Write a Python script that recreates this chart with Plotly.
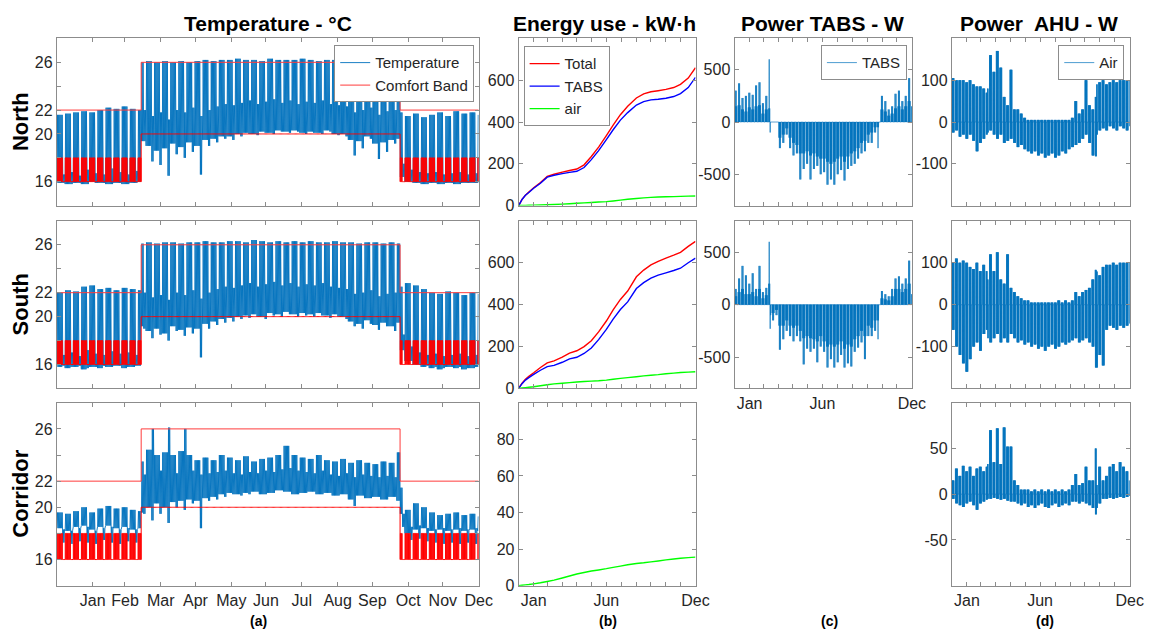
import bisect
import plotly.graph_objects as go

# ---------------------------------------------------------------- data ----
MONTHS = ['Jan', 'Feb', 'Mar', 'Apr', 'May', 'Jun', 'Jul', 'Aug', 'Sep', 'Oct', 'Nov', 'Dec']
SHORT_MONTHS = ['Jan', '', '', '', '', 'Jun', '', '', '', '', '', 'Dec']
MONTH_END_DAY = [31, 59, 90, 120, 151, 181, 212, 243, 273, 304, 334, 365]
N_DAYS = 365
COOL_START = 73      # day the cooling comfort band starts
HEAT_START = 297     # day the heating comfort band comes back

# segments: weeks, split at the two season changes
SEG_START = (list(range(0, COOL_START, 7)) + [COOL_START] + list(range(77, HEAT_START, 7))
             + [HEAT_START] + list(range(301, N_DAYS, 7)))

# comfort band (deg C)
BAND_HEAT_UPPER = 22
BAND_COOL_UPPER = 26
BAND_COOL_LOWER = 20
BAND_HEAT_LOWER_DAY = 18
BAND_HEAT_LOWER_NIGHT = 16

# ---- temperatures, one value per segment (heating / cooling / heating) ----
N_HI = ([21.6, 21.7, 21.8, 21.9, 21.8, 22.0, 22.2, 22.1, 22.3, 22.1, 22.0]
        + [26.0, 26.1, 26.0, 26.1, 26.0, 26.1, 26.0, 26.1, 26.2, 26.1, 26.2,
           26.2, 26.3, 26.2, 26.2, 26.1, 26.3, 26.2, 26.2, 26.2, 26.3, 26.2,
           26.1, 26.2, 26.2, 26.1, 26.2, 26.1, 26.0, 26.1, 26.0, 26.1, 26.0]
        + [21.8, 21.5, 21.7, 21.4, 21.6, 21.8, 21.5, 21.9, 21.7, 21.8, 21.6])
N_LO = ([15.9, 15.8, 15.9, 15.8, 16.0, 15.9, 15.8, 15.9, 15.8, 15.9, 16.0]
        + [19.4, 19.0, 18.6, 18.8, 19.2, 18.9, 19.3, 19.0, 19.5, 19.6, 19.8,
           19.8, 20.0, 20.1, 20.0, 20.2, 20.1, 20.3, 20.2, 20.3, 20.1, 20.2,
           20.1, 20.3, 20.0, 20.0, 19.5, 19.4, 19.8, 19.2, 19.3, 19.5, 19.6]
        + [16.4, 16.0, 15.9, 15.8, 15.9, 15.8, 15.9, 15.8, 15.9, 15.9, 15.9])
N_WE_HI = ([16.6, 16.8, 16.5, 17.0, 16.7, 16.6, 17.1, 16.8, 16.6, 16.9, 17.0]
           + [22.0, 21.5, 21.8, 21.2, 22.0, 21.8, 22.2, 21.5, 22.0, 22.3, 22.5,
              22.4, 22.6, 22.8, 22.5, 22.7, 22.9, 22.6, 22.8, 22.5, 22.7, 22.6,
              22.8, 22.5, 22.4, 22.3, 21.8, 22.0, 22.2, 21.6, 21.9, 22.0, 22.1]
           + [17.5, 17.0, 16.8, 16.7, 16.8, 16.6, 16.7, 16.8, 16.6, 16.7, 16.8])
N_WE_LO = ([15.9, 15.8, 15.9, 15.8, 15.9, 15.9, 15.8, 15.9, 15.8, 15.9, 16.0]
           + [19.4, 17.7, 17.4, 16.5, 18.3, 18.0, 18.5, 16.6, 19.0, 19.3, 19.6,
              19.5, 19.8, 20.0, 19.9, 20.1, 20.0, 20.2, 20.1, 20.2, 20.0, 20.1,
              20.0, 20.2, 19.9, 19.8, 18.2, 18.8, 19.6, 17.9, 18.5, 19.2, 19.5]
           + [16.4, 16.0, 15.9, 15.8, 15.9, 15.8, 15.9, 15.8, 15.9, 15.9, 15.9])

S_HI = ([22.0, 22.2, 22.1, 22.5, 22.6, 22.3, 22.4, 22.2, 22.4, 22.3, 22.2]
        + [26.1, 26.2, 26.1, 26.2, 26.2, 26.1, 26.2, 26.2, 26.3, 26.2, 26.2,
           26.3, 26.3, 26.2, 26.4, 26.3, 26.2, 26.3, 26.2, 26.3, 26.2, 26.3,
           26.2, 26.2, 26.3, 26.2, 26.2, 26.1, 26.2, 26.2, 26.1, 26.2, 26.1]
        + [22.5, 22.8, 22.6, 22.3, 22.0, 21.9, 22.1, 22.0, 21.8, 22.0, 21.9])
S_LO = ([15.8, 15.7, 15.8, 15.6, 15.8, 15.7, 15.8, 15.9, 15.7, 15.8, 15.9]
        + [19.2, 18.8, 19.0, 18.6, 19.2, 18.9, 19.1, 19.0, 19.4, 19.6, 19.8,
           19.9, 20.0, 20.1, 20.2, 20.0, 20.3, 20.2, 20.4, 20.2, 20.3, 20.2,
           20.3, 20.1, 20.2, 20.0, 19.6, 19.4, 19.7, 19.3, 19.5, 19.2, 19.5]
        + [17.2, 16.3, 16.0, 15.8, 15.7, 15.6, 15.8, 15.7, 15.6, 15.7, 15.8])
S_WE_HI = ([16.8, 17.0, 16.7, 17.2, 16.9, 16.8, 17.1, 16.9, 17.0, 16.8, 17.0]
           + [22.0, 21.6, 21.8, 21.4, 22.0, 21.8, 22.2, 21.5, 22.0, 22.3, 22.5,
              22.4, 22.6, 22.8, 22.5, 22.7, 22.9, 22.6, 22.8, 22.5, 22.7, 22.6,
              22.8, 22.5, 22.4, 22.3, 21.9, 22.0, 22.2, 21.7, 21.9, 22.0, 22.1]
           + [18.5, 17.5, 17.0, 16.8, 16.9, 16.7, 16.8, 16.9, 16.7, 16.8, 16.9])
S_WE_LO = ([15.9, 15.8, 15.9, 15.7, 15.8, 15.9, 15.8, 15.9, 15.8, 15.9, 16.0]
           + [19.0, 18.2, 18.5, 18.0, 18.8, 18.4, 18.6, 16.6, 19.0, 19.3, 19.5,
              19.6, 19.8, 19.9, 20.0, 19.8, 20.1, 20.0, 20.2, 20.0, 20.1, 20.0,
              20.1, 19.9, 20.0, 19.8, 19.2, 19.0, 19.4, 18.9, 19.2, 18.8, 19.3]
           + [17.2, 16.3, 16.0, 15.9, 15.8, 15.7, 15.8, 15.8, 15.7, 15.8, 15.9])

C_HI = ([19.6, 19.5, 19.7, 20.0, 19.6, 19.9, 20.1, 19.9, 20.0, 19.8, 19.7]
        + [23.5, 24.4, 24.0, 24.2, 24.0, 24.3, 24.0, 23.6, 23.8, 23.6, 24.0,
           23.8, 23.6, 23.9, 23.5, 23.7, 23.8, 24.0, 24.7, 24.0, 23.8, 23.7,
           24.0, 23.6, 23.5, 23.7, 23.4, 23.6, 23.4, 23.3, 23.5, 23.4, 24.2]
        + [21.5, 19.8, 20.3, 20.0, 19.6, 19.4, 19.5, 19.6, 19.4, 19.5, 19.3])
C_LO = ([18.4, 18.2, 18.5, 18.6, 18.3, 18.5, 18.6, 18.4, 18.5, 18.3, 18.4]
        + [19.6, 20.0, 20.3, 20.0, 20.4, 20.5, 20.6, 20.5, 20.7, 20.8, 21.0,
           21.1, 21.0, 21.1, 21.2, 21.0, 21.1, 21.3, 21.2, 21.0, 21.1, 21.2,
           21.0, 21.1, 20.9, 21.0, 20.6, 20.9, 20.7, 20.8, 20.6, 20.8, 20.5]
        + [19.5, 18.0, 18.3, 18.4, 18.2, 18.3, 18.2, 18.3, 18.2, 18.3, 18.2])
C_WE_HI = ([18.3, 18.2, 18.4, 18.5, 18.2, 18.4, 18.5, 18.3, 18.4, 18.3, 18.6]
           + [22.5, 26.0, 22.8, 26.1, 22.6, 26.0, 22.8, 22.5, 22.6, 22.7, 22.8,
              22.6, 22.5, 22.7, 22.6, 22.8, 22.7, 22.9, 23.0, 22.8, 22.7, 22.6,
              22.8, 22.5, 22.4, 22.6, 22.3, 22.5, 22.4, 22.3, 22.4, 22.3, 22.6]
           + [19.5, 18.5, 18.6, 18.4, 18.3, 18.4, 18.3, 18.4, 18.3, 18.4, 18.3])
C_WE_LO = ([17.3, 17.2, 17.4, 17.3, 17.2, 17.5, 17.3, 17.2, 17.4, 17.3, 17.6]
           + [19.5, 19.0, 19.5, 18.8, 20.0, 19.8, 20.3, 18.4, 20.5, 20.6, 20.8,
              21.0, 20.9, 21.0, 21.2, 21.0, 21.1, 21.3, 21.2, 21.0, 21.1, 21.2,
              21.0, 21.1, 20.9, 21.0, 20.1, 20.9, 20.7, 20.8, 20.6, 20.8, 20.5]
           + [18.5, 17.5, 17.6, 17.4, 17.3, 17.2, 17.3, 17.2, 17.3, 17.2, 17.4])

# ---- cumulative energy use (kW.h) ----
ENERGY_DAYS = [0, 7, 14, 21, 31, 45, 59, 73, 90, 105, 120, 135, 150, 165, 181, 195,
               210, 225, 243, 258, 273, 288, 304, 320, 334, 350, 365]
N_TOTAL = [0, 30, 50, 65, 85, 110, 140, 150, 160, 168, 175, 195, 235, 280, 335, 385,
           435, 475, 515, 535, 545, 550, 556, 565, 580, 610, 660]
N_TABS = [0, 29, 49, 63, 83, 107, 136, 145, 153, 159, 164, 182, 220, 263, 316, 363,
          409, 445, 481, 498, 506, 509, 514, 522, 536, 565, 614]
N_AIR = [0, 0.5, 1, 1.5, 2, 3, 4, 5, 7, 9, 11, 13, 15, 17, 19, 22,
         26, 30, 34, 37, 39, 41, 42, 43, 44, 45, 46]
S_TOTAL = [0, 25, 44, 58, 75, 100, 122, 132, 150, 169, 180, 200, 228, 270, 322, 375,
           425, 465, 533, 565, 590, 607, 622, 636, 650, 678, 702]
S_TABS = [0, 23, 40, 52, 67, 87, 104, 110, 125, 141, 149, 167, 193, 233, 282, 331,
          377, 413, 477, 505, 527, 541, 552, 563, 574, 600, 622]
S_AIR = [0, 2, 4, 6, 8, 13, 18, 22, 25, 28, 31, 33, 35, 37, 40, 44,
         48, 52, 56, 60, 63, 66, 70, 73, 76, 78, 80]
C_AIR = [0, 0.2, 0.4, 0.6, 1.0, 1.6, 2.3, 3.0, 4.2, 5.3, 6.4, 7.2, 8.0, 8.6, 9.3, 10.0,
         10.7, 11.4, 12.1, 12.5, 13.0, 13.5, 14.1, 14.6, 15.0, 15.3, 15.6]

# ---- TABS power (W), per segment: peak day and typical day ----
TABS_N_PK = [300, 370, 230, 250, 280, 260, 350, 380, 180, 250, 600,
             -100, 0, 0, -250, -200, -120, -250, -320, -300, -550, -450,
             -400, -550, -450, -420, -500, -480, -600, -550, -600, -500, -460,
             -560, -450, -420, -400, -350, -300, -280, -200, -200, -100, -250,
             0, 250, 200, 120, 150, 270, 300, 200, 250, 420, 300]
TABS_N_LV = [150, 160, 120, 100, 140, 120, 150, 160, 80, 120, 130,
             0, 0, 0, -150, -120, -60, -150, -200, -220, -300, -300,
             -280, -320, -300, -330, -350, -350, -380, -400, -380, -350, -330,
             -380, -330, -300, -280, -250, -200, -180, -120, -100, -50, -50,
             0, 120, 100, 60, 80, 130, 150, 120, 150, 200, 150]
TABS_S_PK = [150, 250, 370, 280, 200, 300, 150, 370, 120, 160, 600,
             -230, -150, -100, -430, -330, -250, -300, -350, -300, -350, -570,
             -420, -450, -420, -550, -400, -450, -600, -520, -600, -550, -480,
             -600, -560, -590, -450, -410, -360, -520, -300, -300, -250, -330,
             0, 130, 100, 80, 150, 250, 270, 200, 250, 420, 200]
TABS_S_LV = [80, 120, 150, 100, 100, 120, 80, 150, 60, 90, 200,
             -100, -80, -50, -200, -200, -150, -200, -220, -200, -250, -320,
             -300, -320, -330, -350, -300, -350, -400, -380, -400, -380, -350,
             -420, -380, -400, -330, -300, -250, -300, -200, -220, -150, -150,
             0, 60, 50, 40, 80, 150, 150, 120, 150, 200, 100]

# ---- AHU power (W), per segment: positive and negative daily extremes ----
AHU_N_POS = [105, 100, 100, 100, 95, 100, 90, 85, 85, 80, 70,
             80, 160, 120, 170, 130, 60, 40, 125, 30, 30, 20,
             10, 5, 5, 5, 5, 5, 5, 5, 5, 5, 5,
             5, 5, 5, 10, 50, 20, 30, 100, 40, 30, 60,
             90, 95, 100, 90, 95, 100, 95, 100, 100, 100, 100]
AHU_N_NEG = [-25, -20, -35, -30, -40, -30, -45, -70, -50, -40, -30,
             -25, -20, -30, -40, -30, -50, -45, -40, -50, -60, -55,
             -65, -70, -75, -70, -80, -75, -85, -80, -75, -85, -80,
             -70, -75, -65, -60, -55, -50, -40, -30, -50, -80, -82,
             -30, -20, -15, -20, -10, -15, -20, -10, -15, -20, -10]
AHU_S_POS = [100, 110, 100, 105, 100, 90, 85, 100, 80, 95, 80,
             60, 120, 80, 125, 60, 50, 120, 40, 30, 20, 15,
             10, 10, 5, 5, 5, 5, 5, 5, 5, 5, 10,
             5, 10, 5, 10, 30, 20, 30, 35, 40, 60, 83,
             79, 70, 90, 95, 95, 100, 95, 100, 100, 100, 100]
AHU_S_NEG = [-60, -100, -120, -140, -160, -130, -100, -90, -110, -70, -60,
             -80, -90, -80, -70, -90, -80, -90, -70, -80, -90, -85,
             -95, -90, -100, -95, -105, -100, -110, -100, -95, -105, -100,
             -90, -95, -90, -85, -80, -90, -85, -80, -90, -100, -150,
             -150, -120, -145, -60, -50, -55, -60, -50, -55, -50, -45]
AHU_C_POS = [15, 28, 20, 31, 25, 30, 20, 28, 30, 25, 30,
             33, 70, 35, 72, 33, 73, 52, 52, 15, 10, 5,
             5, 5, 3, 5, 3, 5, 3, 5, 3, 5, 3,
             5, 3, 5, 10, 22, 10, 12, 30, 15, 15, 50,
             10, 30, 15, 20, 30, 33, 25, 35, 30, 25, 15]
AHU_C_NEG = [-5, -10, -12, -14, -10, -8, -12, -17, -10, -8, -6,
             -5, -5, -4, -5, -6, -5, -7, -8, -8, -10, -12,
             -10, -14, -12, -15, -12, -10, -14, -15, -12, -10, -14,
             -12, -10, -12, -8, -8, -10, -8, -10, -12, -15, -22,
             -15, -10, -5, -5, -4, -5, -4, -3, -4, -3, -2]

# --------------------------------------------------------------- style ----
FONT = 'Liberation Sans, Arial, sans-serif'
TXT = '#262626'
AX = '#8c8c8c'
BLUE = 'rgb(0,114,189)'
W, H = 1160, 641


def seg(d):
    return bisect.bisect_right(SEG_START, d) - 1


def weekday(d):
    return d % 7 < 5


def temp_xy(hi, lo, we_hi, we_lo):
    xs, ys = [], []
    for d in range(N_DAYS):
        s = seg(d)
        a, b = (lo[s], hi[s]) if weekday(d) else (we_lo[s], we_hi[s])
        xs += [d + 0.25, d + 0.65]
        ys += [a, b]
    return xs, ys


def band_lower_xy():
    xs, ys = [], []
    for d in range(N_DAYS):
        if COOL_START <= d < HEAT_START:
            xs += [d, d + 1]
            ys += [BAND_COOL_LOWER, BAND_COOL_LOWER]
        elif weekday(d):
            xs += [d, d + 0.3, d + 0.3, d + 0.8, d + 0.8, d + 1]
            ys += [BAND_HEAT_LOWER_NIGHT, BAND_HEAT_LOWER_NIGHT, BAND_HEAT_LOWER_DAY,
                   BAND_HEAT_LOWER_DAY, BAND_HEAT_LOWER_NIGHT, BAND_HEAT_LOWER_NIGHT]
        else:
            xs += [d, d + 1]
            ys += [BAND_HEAT_LOWER_NIGHT, BAND_HEAT_LOWER_NIGHT]
    return xs, ys


def band_upper_xy():
    xs = [0, COOL_START, COOL_START, HEAT_START, HEAT_START, N_DAYS]
    ys = [BAND_HEAT_UPPER, BAND_HEAT_UPPER, BAND_COOL_UPPER, BAND_COOL_UPPER,
          BAND_HEAT_UPPER, BAND_HEAT_UPPER]
    return xs, ys


def tabs_xy(pk, lv):
    xs, ys = [], []
    for d in range(N_DAYS):
        s = seg(d)
        wd = d % 7
        if wd < 5:
            v = pk[s] if wd in (1, 3) else lv[s]
        else:
            v = 0
        xs += [d + 0.1, d + 0.4, d + 0.7]
        ys += [0, v, 0]
    return xs, ys


def ahu_xy(pos, neg):
    xs, ys = [], []
    for d in range(N_DAYS):
        s = seg(d)
        if weekday(d):
            p, n = pos[s], neg[s]
        else:
            p, n = 0, 0
        xs += [d + 0.1, d + 0.3, d + 0.5, d + 0.7, d + 0.9]
        ys += [0, p, 0, n, 0]
    return xs, ys


fig = go.Figure()


def add(x, y, axis_n, color, width=1, name=None, legend=None, showlegend=False, group=None):
    fig.add_trace(go.Scatter(
        x=x, y=y, mode='lines', name=name,
        line=dict(color=color, width=width, simplify=False),
        xaxis='x' if axis_n == 1 else f'x{axis_n}',
        yaxis='y' if axis_n == 1 else f'y{axis_n}',
        showlegend=showlegend, legend=legend, legendgroup=group,
        hoverinfo='skip'))


# column (a): temperatures
for n, zone in ((1, (N_HI, N_LO, N_WE_HI, N_WE_LO)), (5, (S_HI, S_LO, S_WE_HI, S_WE_LO)),
                (9, (C_HI, C_LO, C_WE_HI, C_WE_LO))):
    tx, ty = temp_xy(*zone)
    add(tx, ty, n, BLUE, 0.9, 'Temperature', 'legend', n == 1)
    ux, uy = band_upper_xy()
    add(ux, uy, n, 'rgb(255,60,60)', 1, 'Comfort Band', 'legend', n == 1, f'band{n}')
    lx, ly = band_lower_xy()
    add(lx, ly, n, 'rgb(255,0,0)', 1, 'Comfort Band', 'legend', False, f'band{n}')

# column (b): energy
add(ENERGY_DAYS, N_TOTAL, 2, 'rgb(255,0,0)', 1.4, 'Total', 'legend2', True)
add(ENERGY_DAYS, N_TABS, 2, 'rgb(0,0,255)', 1.4, 'TABS', 'legend2', True)
add(ENERGY_DAYS, N_AIR, 2, 'rgb(0,255,0)', 1.4, 'air', 'legend2', True)
add(ENERGY_DAYS, S_TOTAL, 6, 'rgb(255,0,0)', 1.4)
add(ENERGY_DAYS, S_TABS, 6, 'rgb(0,0,255)', 1.4)
add(ENERGY_DAYS, S_AIR, 6, 'rgb(0,255,0)', 1.4)
add(ENERGY_DAYS, C_AIR, 10, 'rgb(0,255,0)', 1.4)

# column (c): TABS power
PW = 0.7
x, y = tabs_xy(TABS_N_PK, TABS_N_LV)
add(x, y, 3, BLUE, PW, 'TABS', 'legend3', True)
x, y = tabs_xy(TABS_S_PK, TABS_S_LV)
add(x, y, 7, BLUE, PW)

# column (d): AHU power
x, y = ahu_xy(AHU_N_POS, AHU_N_NEG)
add(x, y, 4, BLUE, PW, 'Air', 'legend4', True)
x, y = ahu_xy(AHU_S_POS, AHU_S_NEG)
add(x, y, 8, BLUE, PW)
x, y = ahu_xy(AHU_C_POS, AHU_C_NEG)
add(x, y, 11, BLUE, PW)

# --------------------------------------------------------------- layout ---
COL_X = {'a': (57.5, 484.5), 'b': (525, 704), 'c': (743.5, 923), 'd': (963.5, 1143.5)}
ROW_Y = {1: (39, 208.5), 2: (224, 394), 3: (408.5, 594)}
PANELS = [('a', 1), ('b', 1), ('c', 1), ('d', 1),
          ('a', 2), ('b', 2), ('c', 2), ('d', 2),
          ('a', 3), ('b', 3), ('d', 3)]

TEMP_Y = dict(range=[14, 28], tickvals=[16, 18, 20, 22, 24, 26],
              ticktext=['16', '', '20', '22', '', '26'])
Y_CFG = {
    ('a', 1): TEMP_Y, ('a', 2): TEMP_Y, ('a', 3): TEMP_Y,
    ('b', 1): dict(range=[0, 800], tickvals=[0, 200, 400, 600], ticktext=['0', '200', '400', '600']),
    ('b', 2): dict(range=[0, 800], tickvals=[0, 200, 400, 600], ticktext=['0', '200', '400', '600']),
    ('b', 3): dict(range=[0, 100], tickvals=[0, 20, 40, 60, 80], ticktext=['0', '20', '40', '60', '80']),
    ('c', 1): dict(range=[-800, 800], tickvals=[-500, 0, 500], ticktext=['-500', '0', '500']),
    ('c', 2): dict(range=[-800, 800], tickvals=[-500, 0, 500], ticktext=['-500', '0', '500']),
    ('d', 1): dict(range=[-200, 200], tickvals=[-100, 0, 100], ticktext=['-100', '0', '100']),
    ('d', 2): dict(range=[-200, 200], tickvals=[-100, 0, 100], ticktext=['-100', '0', '100']),
    ('d', 3): dict(range=[-100, 100], tickvals=[-50, 0, 50], ticktext=['-50', '0', '50']),
}
X_LABELS = {('a', 3): MONTHS, ('b', 3): SHORT_MONTHS, ('c', 2): SHORT_MONTHS, ('d', 3): SHORT_MONTHS}

common = dict(showline=True, mirror='ticks', linecolor=AX, linewidth=1, ticks='inside',
              ticklen=4, tickcolor=AX, tickwidth=1, showgrid=False, zeroline=False,
              tickfont=dict(family=FONT, size=16, color=TXT), tickmode='array', fixedrange=True)

layout = dict(width=W, height=H, margin=dict(l=0, r=0, t=0, b=0),
              paper_bgcolor='white', plot_bgcolor='white', hovermode=False)

for i, (col, row) in enumerate(PANELS, start=1):
    x0, x1 = COL_X[col]
    y0, y1 = ROW_Y[row]
    xk = 'xaxis' if i == 1 else f'xaxis{i}'
    yk = 'yaxis' if i == 1 else f'yaxis{i}'
    labels = X_LABELS.get((col, row))
    layout[xk] = dict(common, domain=[x0 / W, x1 / W], range=[0, N_DAYS],
                      tickvals=MONTH_END_DAY, ticktext=labels if labels else [''] * 12,
                      showticklabels=labels is not None,
                      anchor='y' if i == 1 else f'y{i}')
    layout[yk] = dict(common, domain=[1 - y1 / H, 1 - y0 / H],
                      anchor='x' if i == 1 else f'x{i}', **Y_CFG[(col, row)])

legend_common = dict(bgcolor='white', bordercolor=AX, borderwidth=1, itemwidth=30,
                     font=dict(family=FONT, size=15, color=TXT), tracegroupgap=0,
                     yanchor='top')
layout['legend'] = dict(legend_common, x=480 / W, xanchor='right', y=1 - 46 / H)
layout['legend2'] = dict(legend_common, x=530 / W, xanchor='left', y=1 - 47 / H)
layout['legend3'] = dict(legend_common, x=918 / W, xanchor='right', y=1 - 46 / H)
layout['legend4'] = dict(legend_common, x=1138 / W, xanchor='right', y=1 - 46 / H)

ann = []
for text, xc in (('Temperature - °C', 271), ('Energy use - kW·h', 612),
                 ('Power TABS - W', 833), ('Power  AHU - W', 1052)):
    ann.append(dict(text=f'<b>{text}</b>', x=xc / W, y=1 - 24 / H, xref='paper', yref='paper',
                    showarrow=False, font=dict(family=FONT, size=21, color='black'),
                    xanchor='center', yanchor='middle'))
for text, yc in (('North', 123), ('South', 309), ('Corridor', 501)):
    ann.append(dict(text=f'<b>{text}</b>', x=21 / W, y=1 - yc / H, xref='paper', yref='paper',
                    showarrow=False, textangle=-90, font=dict(family=FONT, size=22, color='black'),
                    xanchor='center', yanchor='middle'))
for text, xc in (('(a)', 262), ('(b)', 615), ('(c)', 840), ('(d)', 1058)):
    ann.append(dict(text=f'<b>{text}</b>', x=xc / W, y=1 - 630 / H, xref='paper', yref='paper',
                    showarrow=False, font=dict(family=FONT, size=14, color='black'),
                    xanchor='center', yanchor='middle'))
layout['annotations'] = ann

fig.update_layout(**layout)
fig.write_html('out.html')
